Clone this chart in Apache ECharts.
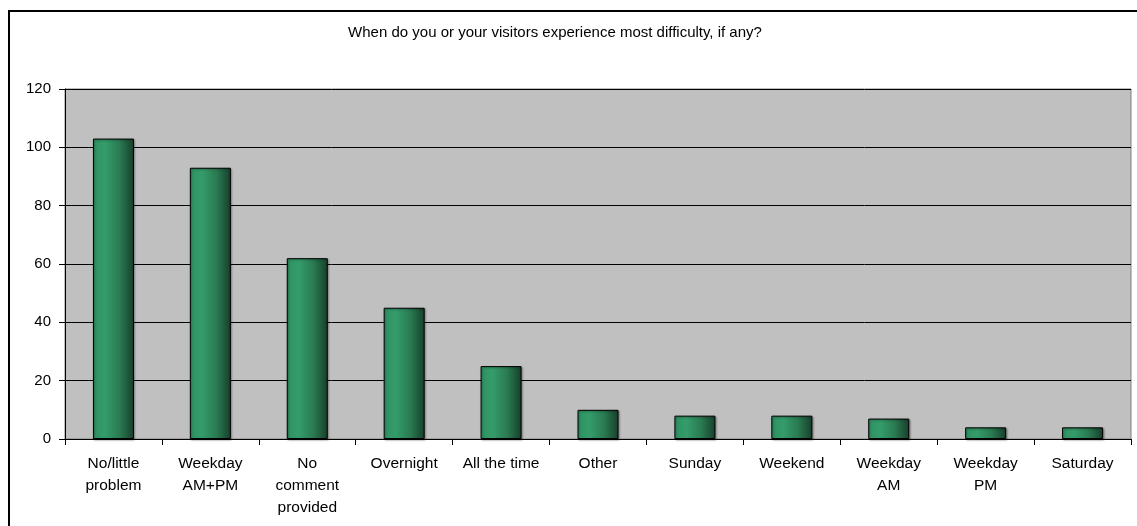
<!DOCTYPE html>
<html><head><meta charset="utf-8">
<script src="https://cdn.jsdelivr.net/npm/echarts@6/dist/echarts.min.js"></script>
<style>html,body{margin:0;padding:0;background:#fff}#c{width:1137px;height:526px}</style>
</head><body><div id="c"></div>
<script>
var titleText = 'When do you or your visitors experience most difficulty, if any?';
var categories = ['No/little\nproblem', 'Weekday\nAM+PM', 'No\ncomment\nprovided', 'Overnight', 'All the time', 'Other', 'Sunday', 'Weekend', 'Weekday\nAM', 'Weekday\nPM', 'Saturday'];
var values = [103, 93, 62, 45, 25, 10, 8, 8, 7, 4, 4];
var yTicks = {min: 0, max: 120, interval: 20};

var chart = echarts.init(document.getElementById('c'));
var font = 'Liberation Sans, Arial, sans-serif';
chart.setOption({
  animation: false,
  backgroundColor: '#fff',
  title: {text: titleText, left: 550, top: 20, textAlign: 'center',
    textStyle: {fontFamily: font, fontSize: 15, fontWeight: 'normal', color: '#000'}},
  grid: {left: 65, top: 89, right: 6, bottom: 87, show: true, backgroundColor: '#c0c0c0', borderColor: '#808080', borderWidth: 1},
  xAxis: {type: 'category', data: categories,
    axisLine: {lineStyle: {color: '#000', width: 1}},
    axisTick: {show: true, length: 6, lineStyle: {color: '#000'}},
    axisLabel: {fontFamily: font, fontSize: 15.5, color: '#000', lineHeight: 22, margin: 14, interval: 0}},
  yAxis: {type: 'value', min: yTicks.min, max: yTicks.max, interval: yTicks.interval,
    axisLine: {show: true, lineStyle: {color: '#000', width: 1}},
    axisTick: {show: true, length: 6, lineStyle: {color: '#000'}},
    splitLine: {show: true, lineStyle: {color: '#000', width: 1}},
    axisLabel: {fontFamily: font, fontSize: 15, color: '#000', margin: 14}},
  series: [{type: 'bar', data: values, barWidth: 41,
    itemStyle: {
      color: new echarts.graphic.LinearGradient(0, 0, 1, 0, [
        {offset: 0, color: '#2f9263'},
        {offset: 0.3, color: '#349c6a'},
        {offset: 0.65, color: '#2a7a52'},
        {offset: 1, color: '#173f2b'}]),
      borderColor: '#000', borderWidth: 1,
      shadowColor: 'rgba(0,0,0,0.35)', shadowBlur: 2, shadowOffsetX: 1, shadowOffsetY: 1}
  }],
  graphic: [{type: 'rect', shape: {x: 9, y: 11, width: 1300, height: 700},
    style: {fill: 'none', stroke: '#000', lineWidth: 2}, silent: true, z: 100}]
});
</script></body></html>
